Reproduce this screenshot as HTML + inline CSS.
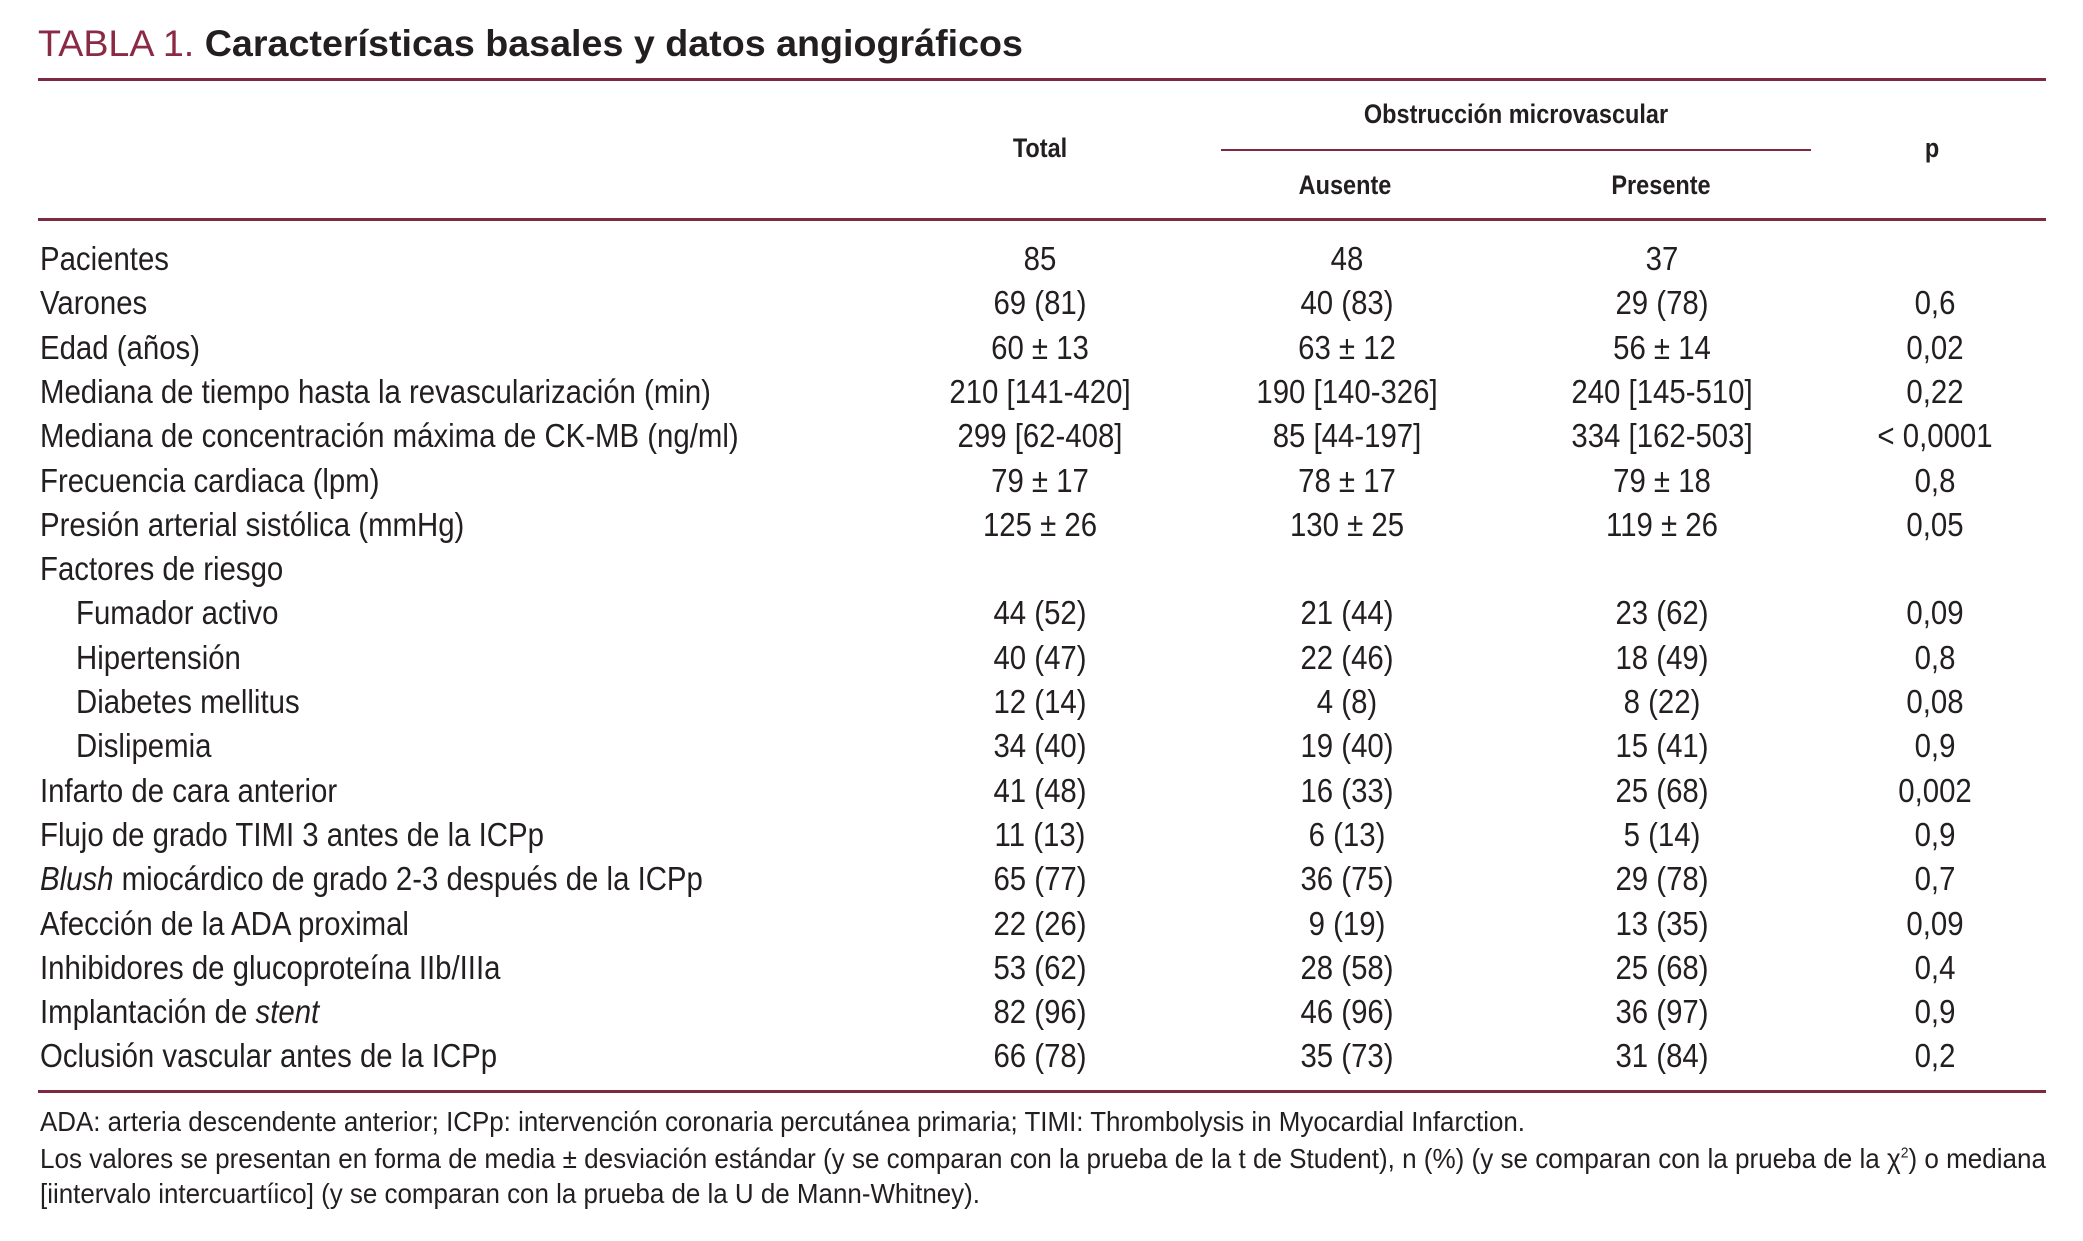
<!DOCTYPE html>
<html><head><meta charset="utf-8">
<style>
html,body{margin:0;padding:0;background:#fff;}
#page{position:relative;width:2083px;height:1241px;overflow:hidden;background:#fff;font-family:"Liberation Sans",Arial,sans-serif;color:#231f20;}
.t{position:absolute;white-space:nowrap;line-height:1;}
.sq{display:inline-block;transform:scaleX(.89);}
.l .sq{transform-origin:left center;}
.c .sq{transform-origin:center center;}
.c{transform:translateX(-50%);}
.rule{position:absolute;height:3px;background:#7d2a41;}
.h .sq{transform:scaleX(.87);}
</style></head>
<body>
<div id="page">
  <div class="t l fit" data-w="985" style="left:38px;top:25px;font-size:37px;"><span class="sq"><span style="color:#8b2a45">TABLA 1.</span> <b>Características basales y datos angiográficos</b></span></div>
  <div class="rule" style="left:38px;top:78px;width:2008px;"></div>

  <div class="t c h" style="left:1516px;top:101px;font-size:27px;font-weight:bold;"><span class="sq">Obstrucción microvascular</span></div>
  <div class="rule" style="left:1221px;top:149px;width:590px;height:2px;"></div>
  <div class="t c h" style="left:1040px;top:135px;font-size:27px;font-weight:bold;"><span class="sq">Total</span></div>
  <div class="t c h" style="left:1932px;top:135px;font-size:27px;font-weight:bold;"><span class="sq">p</span></div>
  <div class="t c h" style="left:1345px;top:172px;font-size:27px;font-weight:bold;"><span class="sq">Ausente</span></div>
  <div class="t c h" style="left:1661px;top:172px;font-size:27px;font-weight:bold;"><span class="sq">Presente</span></div>
  <div class="rule" style="left:38px;top:218px;width:2008px;"></div>

  <div class="rule" style="left:38px;top:1090px;width:2008px;"></div>
  <div class="t l fit" data-w="1485" style="left:40px;top:1108px;font-size:28px;"><span class="sq">ADA: arteria descendente anterior; ICPp: intervención coronaria percutánea primaria; TIMI: Thrombolysis in Myocardial Infarction.</span></div>
  <div class="t l fit" data-w="2006" style="left:40px;top:1145px;font-size:28px;"><span class="sq">Los valores se presentan en forma de media ± desviación estándar (y se comparan con la prueba de la t de Student), n (%) (y se comparan con la prueba de la χ<sup style="font-size:15px">2</sup>) o mediana</span></div>
  <div class="t l fit" data-w="940" style="left:40px;top:1180px;font-size:28px;"><span class="sq">[iintervalo intercuartíico] (y se comparan con la prueba de la U de Mann-Whitney).</span></div>
</div>
<script>
const labels=["Pacientes","Varones","Edad (años)","Mediana de tiempo hasta la revascularización (min)","Mediana de concentración máxima de CK-MB (ng/ml)","Frecuencia cardiaca (lpm)","Presión arterial sistólica (mmHg)","Factores de riesgo","Fumador activo","Hipertensión","Diabetes mellitus","Dislipemia","Infarto de cara anterior","Flujo de grado TIMI 3 antes de la ICPp","<i>Blush</i> miocárdico de grado 2-3 después de la ICPp","Afección de la ADA proximal","Inhibidores de glucoproteína IIb/IIIa","Implantación de <i>stent</i>","Oclusión vascular antes de la ICPp"];
const indent=[0,0,0,0,0,0,0,0,1,1,1,1,0,0,0,0,0,0,0];
const totalVals=["85","69 (81)","60 ± 13","210 [141-420]","299 [62-408]","79 ± 17","125 ± 26","","44 (52)","40 (47)","12 (14)","34 (40)","41 (48)","11 (13)","65 (77)","22 (26)","53 (62)","82 (96)","66 (78)"];
const ausenteVals=["48","40 (83)","63 ± 12","190 [140-326]","85 [44-197]","78 ± 17","130 ± 25","","21 (44)","22 (46)","4 (8)","19 (40)","16 (33)","6 (13)","36 (75)","9 (19)","28 (58)","46 (96)","35 (73)"];
const presenteVals=["37","29 (78)","56 ± 14","240 [145-510]","334 [162-503]","79 ± 18","119 ± 26","","23 (62)","18 (49)","8 (22)","15 (41)","25 (68)","5 (14)","29 (78)","13 (35)","25 (68)","36 (97)","31 (84)"];
const pVals=["","0,6","0,02","0,22","< 0,0001","0,8","0,05","","0,09","0,8","0,08","0,9","0,002","0,9","0,7","0,09","0,4","0,9","0,2"];
const page=document.getElementById('page');
function mk(cls,x,y,html){
  const d=document.createElement('div');
  d.className='t '+cls;
  d.style.left=x+'px';d.style.top=y+'px';d.style.fontSize='33px';
  d.innerHTML='<span class="sq">'+html+'</span>';
  page.appendChild(d);
  return d;
}
labels.forEach((lab,i)=>{
  const y=259+i*44.3-17;
  const a=mk('l',indent[i]?76:40,y,lab);
  
  
  const cols=[[1040,totalVals],[1347,ausenteVals],[1662,presenteVals],[1935,pVals]];
  cols.forEach(([x,arr])=>{
    if(!arr[i])return;
    const v=mk('c',x,y,arr[i]);
    
    
  });
});
document.querySelectorAll('.fit').forEach(el=>{
  const sp=el.firstElementChild;sp.style.transform='none';
  const w=sp.getBoundingClientRect().width;
  sp.style.transform='scaleX('+(parseFloat(el.dataset.w)/w)+')';
});
</script>
</body></html>
